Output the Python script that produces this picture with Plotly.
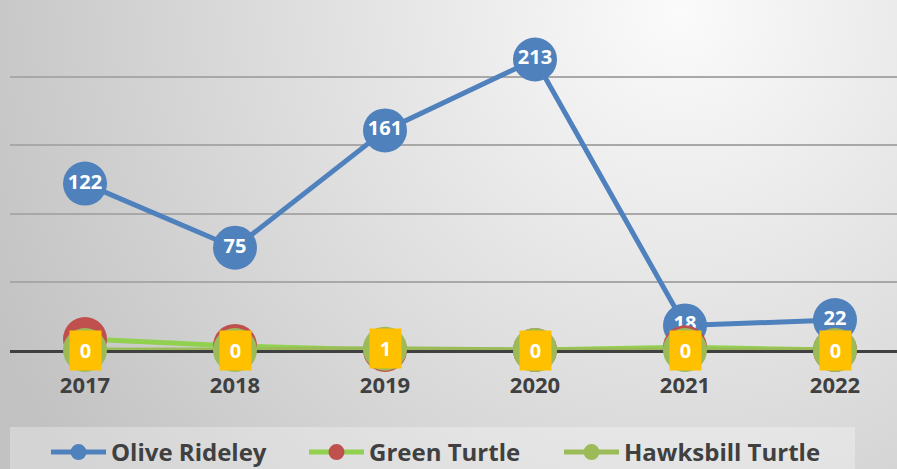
import base64
import plotly.graph_objects as go

years = ["2017", "2018", "2019", "2020", "2021", "2022"]
olive_ridley = [122, 75, 161, 213, 18, 22]
green_turtle = [8, 3, 0, 0, 2, 0]
hawksbill = [0, 0, 1, 0, 0, 0]

FONT = "Open Sans"
W, H = 897, 469
ML, MR, MT, MB = 10, 0, 9, 119
PW, PH = W - ML - MR, H - MT - MB

svg = (
    "<svg xmlns='http://www.w3.org/2000/svg' width='897' height='469'>"
    "<defs><radialGradient id='g' gradientUnits='userSpaceOnUse' cx='680' cy='10' r='760'>"
    "<stop offset='0' stop-color='#fbfbfb'/><stop offset='1' stop-color='#c2c2c2'/>"
    "</radialGradient></defs><rect width='897' height='469' fill='url(#g)'/></svg>"
)
bg_uri = "data:image/svg+xml;base64," + base64.b64encode(svg.encode()).decode()

fig = go.Figure()

fig.add_trace(go.Scatter(
    x=years, y=olive_ridley, name="Olive Rideley", legend="legend",
    mode="lines+markers+text",
    line=dict(color="#4F81BD", width=5),
    marker=dict(color="#4F81BD", size=44),
    text=[str(v) for v in olive_ridley], textposition="middle center",
    textfont=dict(family=FONT, size=20, color="white", weight="bold"),
    cliponaxis=False,
))
fig.add_trace(go.Scatter(
    x=years, y=green_turtle, name="Green Turtle", legend="legend2",
    mode="lines+markers",
    line=dict(color="#92D050", width=5),
    marker=dict(color="#C0504D", size=44),
    cliponaxis=False,
))
fig.add_trace(go.Scatter(
    x=years, y=hawksbill, name="Hawksbill Turtle", legend="legend3",
    mode="lines+markers",
    line=dict(color="#9BBB59", width=5),
    marker=dict(color="#9BBB59", size=44),
    cliponaxis=False,
))

for i, v in enumerate(hawksbill):
    fig.add_annotation(
        x=i, y=v, xref="x", yref="y", text=str(v), showarrow=False,
        bgcolor="#FFC000", width=29, height=37,
        font=dict(family=FONT, size=20, color="white", weight="bold"),
    )

fig.add_layout_image(
    source=bg_uri, xref="paper", yref="paper",
    x=-ML / PW, y=1 + MT / PH, sizex=W / PW, sizey=H / PH,
    xanchor="left", yanchor="top", sizing="stretch", layer="below",
)
fig.add_shape(
    type="rect", xref="paper", yref="paper", layer="below",
    x0=0, x1=(855 - ML) / PW, y0=-(480 - MT - PH) / PH, y1=-(427 - MT - PH) / PH,
    fillcolor="rgba(255,255,255,0.3)", line=dict(width=0),
)


def leg(px):
    return dict(
        orientation="h", x=(px - ML) / PW, xanchor="left",
        y=-(430 - MT - PH) / PH, yanchor="top",
        bgcolor="rgba(0,0,0,0)",
        font=dict(family=FONT, size=24, color="#404040", weight="bold"),
        itemwidth=55,
    )


fig.update_layout(
    width=W, height=H,
    margin=dict(l=ML, r=MR, t=MT, b=MB, autoexpand=False),
    paper_bgcolor="#dddddd", plot_bgcolor="rgba(0,0,0,0)",
    font=dict(family=FONT, color="#404040"),
    showlegend=True,
    legend=leg(46), legend2=leg(304), legend3=leg(559),
    xaxis=dict(
        type="category", range=[-0.5, -0.5 + PW / 150],
        showgrid=False, showline=True, linecolor="#404040", linewidth=3,
        ticks="outside", ticklen=14, tickcolor="rgba(0,0,0,0)",
        tickfont=dict(family=FONT, size=22, color="#404040", weight="bold"),
        layer="below traces",
    ),
    yaxis=dict(
        range=[0, 250], dtick=50, showticklabels=False, zeroline=False,
        showgrid=True, gridcolor="#a8a8a8", gridwidth=1.5,
    ),
)

fig.write_html(
    "out.html",
    config={"displayModeBar": False},
    post_script="document.body.style.margin='0';document.body.style.overflow='hidden';",
)
